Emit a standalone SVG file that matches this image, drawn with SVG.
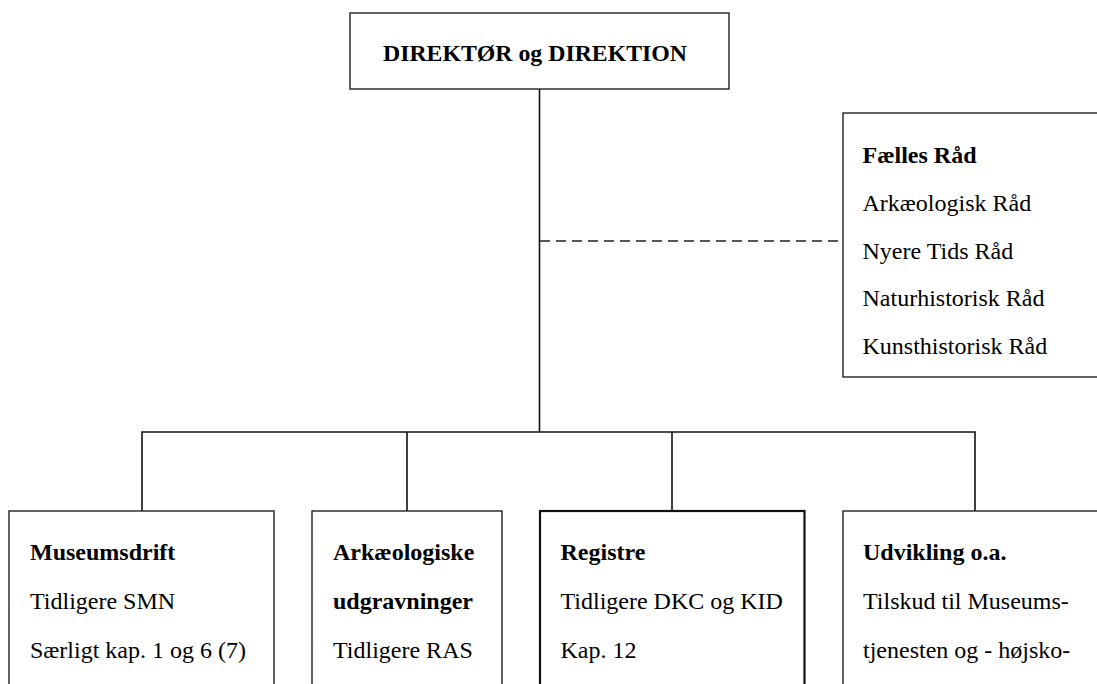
<svg xmlns="http://www.w3.org/2000/svg" width="1097" height="684" viewBox="0 0 1097 684">
<style>
.box{fill:#fff;stroke:#222;stroke-width:1.4}
.thick{stroke:#111;stroke-width:2.2}
.t{font-size:24px;fill:#000}
.b{font-weight:bold}
.ln{stroke:#111;stroke-width:1.6;fill:none}
.dash{stroke:#222;stroke-width:1.4;stroke-dasharray:10 6;fill:none}
</style>
<rect width="1097" height="684" fill="#fff"/>
<g id="connectors">
<line class="ln" x1="539.5" y1="89" x2="539.5" y2="432"/>
<line class="dash" x1="540" y1="241" x2="843" y2="241"/>
<polyline class="ln" points="142,511 142,432 975,432 975,511"/>
<line class="ln" x1="407" y1="432" x2="407" y2="511"/>
<line class="ln" x1="672" y1="432" x2="672" y2="511"/>
</g>
<g font-family="Liberation Serif, Tinos, Times New Roman, DejaVu Serif, serif">
<g id="direktion">
<rect class="box" x="350" y="13" width="379" height="76"/>
<text class="t b" x="383" y="60.5" textLength="304" lengthAdjust="spacingAndGlyphs">DIREKTØR og DIREKTION</text>
</g>
<g id="faelles-raad">
<rect class="box" x="843" y="113" width="270" height="264"/>
<text class="t b" x="862.5" y="163">Fælles Råd</text>
<text class="t" x="862.5" y="210.5">Arkæologisk Råd</text>
<text class="t" x="862.5" y="258.5">Nyere Tids Råd</text>
<text class="t" x="862.5" y="306">Naturhistorisk Råd</text>
<text class="t" x="862.5" y="353.5">Kunsthistorisk Råd</text>
</g>
<g id="museumsdrift">
<rect class="box" x="9" y="511" width="265" height="200"/>
<text class="t b" x="30" y="559.5">Museumsdrift</text>
<text class="t" x="30" y="608.5">Tidligere SMN</text>
<text class="t" x="30" y="657.5">Særligt kap. 1 og 6 (7)</text>
</g>
<g id="arkaeologiske">
<rect class="box" x="312" y="511" width="190" height="200"/>
<text class="t b" x="333" y="559.5">Arkæologiske</text>
<text class="t b" x="333" y="608.5">udgravninger</text>
<text class="t" x="333" y="657.5">Tidligere RAS</text>
</g>
<g id="registre">
<rect class="box thick" x="540" y="511" width="264.5" height="200"/>
<text class="t b" x="560.5" y="559.5">Registre</text>
<text class="t" x="560.5" y="608.5">Tidligere DKC og KID</text>
<text class="t" x="560.5" y="657.5">Kap. 12</text>
</g>
<g id="udvikling">
<rect class="box" x="843" y="511" width="270" height="200"/>
<text class="t b" x="863" y="559.5">Udvikling o.a.</text>
<text class="t" x="863" y="608.5">Tilskud til Museums-</text>
<text class="t" x="863" y="657.5">tjenesten og - højsko-</text>
</g>
</g>
</svg>
